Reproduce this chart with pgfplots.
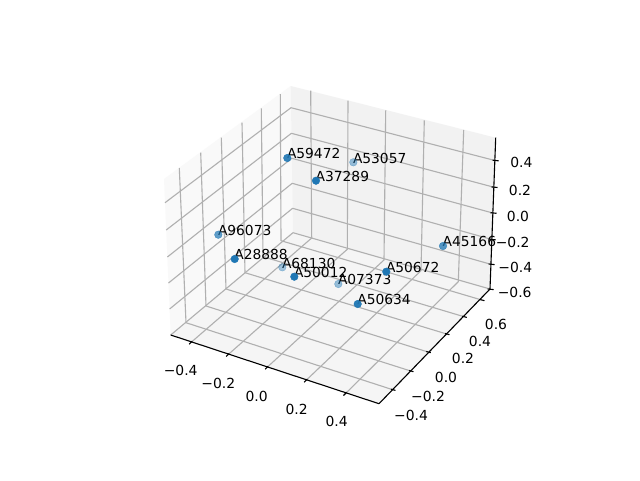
\documentclass[border=0pt]{standalone}
\usepackage{pgfplots}
\pgfplotsset{compat=1.18}
\usepackage{fontspec}
\setmainfont{DejaVu Sans}
\definecolor{pt}{HTML}{1F77B4}
\definecolor{gridc}{HTML}{B0B0B0}
\newcommand{\gl}[1]{\addplot[gridc,line width=1.11pt,line join=round] coordinates {#1};}
\newcommand{\al}[1]{\addplot[black,line width=1.11pt] coordinates {#1};}
\newcommand{\tk}[1]{\addplot[black,line width=1.11pt] coordinates {#1};}
\newcommand{\pane}[2]{\addplot[draw=none,fill=#1] coordinates {#2} -- cycle;}
\newcommand{\pnt}[3]{\addplot[only marks,mark=*,mark size=3.8pt,mark options={draw=pt,fill=pt,opacity=#3}] coordinates {(#1,#2)};}
\newcommand{\lab}[3]{\node[anchor=base west,inner sep=0pt,xshift=-0.5pt,yshift=-0.8pt,font=\fontsize{13.8}{16}\selectfont] at (axis cs:#1,#2) {#3};}
\newcommand{\tl}[3]{\node[anchor=center,inner sep=0pt,font=\fontsize{13.9}{16}\selectfont] at (axis cs:#1,#2) {#3};}
\begin{document}
\begin{tikzpicture}
\begin{axis}[
  width=640pt,height=480pt,scale only axis,
  xmin=0,xmax=640,ymin=0,ymax=480,y dir=reverse,
  hide axis,clip=false]
% page
\addplot[draw=none,fill=white] coordinates {(0,0)(640,0)(640,480)(0,480)} -- cycle;
% panes
\pane{black!2.5}{(164,179)(290.7,86)(293,232.7)(170.7,335)}
\pane{black!5}{(290.7,86)(495.7,137.7)(490,289)(293,232.7)}
\pane{black!3.75}{(170.7,335)(293,232.7)(490,289)(379,403.7)}
% z grid
\gl{(165,202.7)(291,107.7)(494.9,160.5)}
\gl{(166.2,230)(291.4,133.3)(493.8,187.2)}
\gl{(167.4,257)(291.8,158.3)(492.8,213)}
\gl{(168.5,283)(292.2,183.3)(491.9,239.5)}
\gl{(169.6,309)(292.6,208.3)(490.9,264.3)}
\gl{(170.7,335)(293,232.7)(490,289)}
% x grid
\gl{(190.7,342.7)(311.7,238)(310.7,90.7)}
\gl{(227.7,355)(347.3,249.3)(348,100.7)}
\gl{(266.7,367.7)(384,260)(385.7,110.3)}
\gl{(305.7,380.7)(421,270.7)(424.3,120.3)}
\gl{(345,394)(458.3,281.7)(463.7,130)}
% y grid
\gl{(392.7,389.7)(186,322.7)(179.3,168)}
\gl{(410.7,371)(206,306)(200.7,152.7)}
\gl{(428,352)(226,289)(221.3,137.7)}
\gl{(446.7,334)(245,272.7)(242,122.7)}
\gl{(464,316.7)(263,256.7)(261.3,108.3)}
\gl{(481.7,300)(281,240.7)(280.3,94)}
% axis lines
\al{(170.7,335)(379,403.7)}
\al{(379,403.7)(490,289)}
\al{(490,289)(495.7,137.7)}
% x ticks
\tk{(189.2,344.2)(192.2,341.2)}
\tk{(226.2,356.5)(229.2,353.5)}
\tk{(265.2,369.2)(268.2,366.2)}
\tk{(304.2,382.2)(307.2,379.2)}
\tk{(343.5,395.5)(346.5,392.5)}
% y ticks
\tk{(391,389.2)(395.5,390.4)}
\tk{(409,370.5)(413.5,371.7)}
\tk{(426.3,351.5)(430.8,352.7)}
\tk{(445,333.5)(449.5,334.7)}
\tk{(462.3,316.2)(466.8,317.4)}
\tk{(480,299.5)(484.5,300.7)}
% z ticks
\tk{(492.6,160.2)(498.6,160.8)}
\tk{(491.5,186.9)(497.5,187.5)}
\tk{(490.5,212.7)(496.5,213.3)}
\tk{(489.6,239.2)(495.6,239.8)}
\tk{(488.6,264)(494.6,264.6)}
\tk{(487.7,289)(493.7,289.6)}
% points
\pnt{287.3}{158}{0.9}
\pnt{316}{180.7}{1}
\pnt{353.3}{162.3}{0.45}
\pnt{218.3}{234.7}{0.7}
\pnt{234.7}{259}{1}
\pnt{282.3}{267.3}{0.4}
\pnt{294.3}{276.7}{1}
\pnt{443}{246}{0.75}
\pnt{386.3}{271.7}{1}
\pnt{338.3}{284}{0.45}
\pnt{357.7}{304}{0.95}
% labels
\lab{287.3}{158}{A59472}
\lab{316}{180.7}{A37289}
\lab{353.3}{162.3}{A53057}
\lab{218.3}{234.7}{A96073}
\lab{234.7}{259}{A28888}
\lab{282.3}{267.3}{A68130}
\lab{294.3}{276.7}{A50012}
\lab{443}{246}{A45166}
\lab{386.3}{271.7}{A50672}
\lab{338.3}{284}{A07373}
\lab{357.7}{304}{A50634}
% tick labels
\tl{180.7}{370}{−0.4}
\tl{218.3}{383.3}{−0.2}
\tl{256.7}{396.7}{0.0}
\tl{296.7}{409.3}{0.2}
\tl{336.7}{421.7}{0.4}
\tl{411}{415}{−0.4}
\tl{428}{396}{−0.2}
\tl{446}{377}{0.0}
\tl{463}{358}{0.2}
\tl{480}{341}{0.4}
\tl{496}{324}{0.6}
\tl{521.3}{162.7}{0.4}
\tl{520}{190}{0.2}
\tl{518}{216.3}{0.0}
\tl{512.7}{242.3}{−0.2}
\tl{515.3}{267}{−0.4}
\tl{514.7}{292}{−0.6}
\end{axis}
\end{tikzpicture}
\end{document}
